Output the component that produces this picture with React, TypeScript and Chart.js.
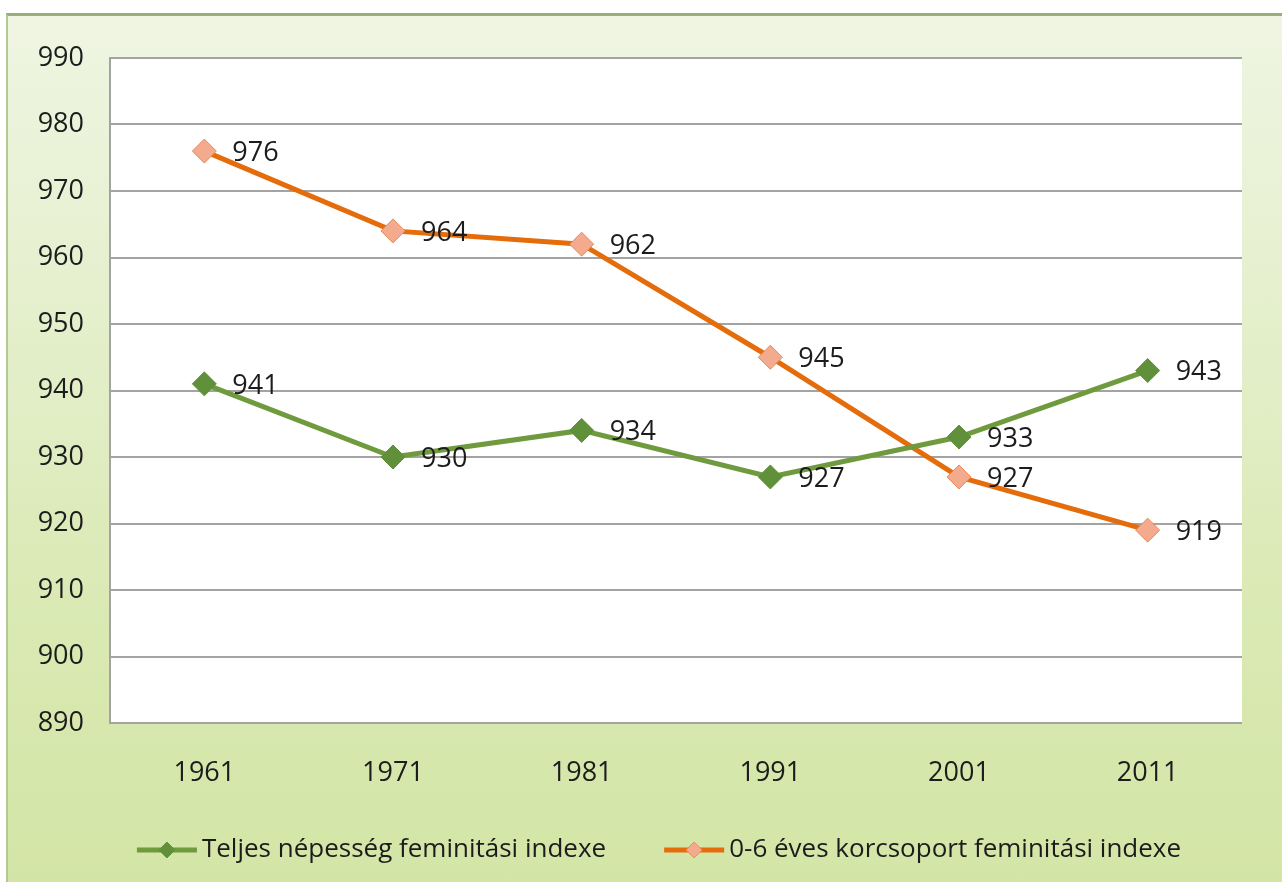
import React, { useEffect, useRef } from "react";
import { Chart, registerables } from "chart.js";

Chart.register(...registerables);

const years = ["1961", "1971", "1981", "1991", "2001", "2011"];
const totalIndex = [941, 930, 934, 927, 933, 943];
const childIndex = [976, 964, 962, 945, 927, 919];
const seriesNames = [
  "Teljes népesség feminitási indexe",
  "0-6 éves korcsoport feminitási indexe",
];
const yMin = 890;
const yMax = 990;
const yStep = 10;

const FONT = "'Open Sans', 'Noto Sans', sans-serif";
const TEXT = "#1c1c1c";
const GREEN_LINE = "#6f9a3e";
const GREEN_PT = "#61903a";
const ORANGE_LINE = "#e46c0a";
const ORANGE_PT = "#f4aa8c";
const ORANGE_PT_BORDER = "#e9895c";
const GRID = "#a3a3a3";

const plotBg = {
  id: "plotBg",
  beforeDraw(chart: any) {
    const { ctx, chartArea } = chart;
    ctx.save();
    ctx.fillStyle = "#ffffff";
    ctx.fillRect(chartArea.left, chartArea.top, chartArea.right - chartArea.left, chartArea.bottom - chartArea.top);
    ctx.restore();
  },
};

const valueLabels = {
  id: "valueLabels",
  afterDatasetsDraw(chart: any) {
    const { ctx } = chart;
    ctx.save();
    ctx.font = `27px ${FONT}`;
    ctx.fillStyle = TEXT;
    ctx.textAlign = "left";
    ctx.textBaseline = "middle";
    chart.data.datasets.forEach((ds: any, i: number) => {
      const meta = chart.getDatasetMeta(i);
      meta.data.forEach((pt: any, j: number) => {
        ctx.fillText(String(ds.data[j]), pt.x + 28, pt.y + 2);
      });
    });
    ctx.restore();
  },
};

const customLegend = {
  id: "customLegend",
  afterDraw(chart: any) {
    const { ctx } = chart;
    ctx.save();
    ctx.font = `26px ${FONT}`;
    ctx.textBaseline = "middle";
    ctx.textAlign = "left";
    const lineLen = 60;
    const gap = 5;
    const itemGap = 58;
    const widths = chart.data.datasets.map((ds: any) => lineLen + gap + ctx.measureText(ds.label).width);
    const total = widths.reduce((a: number, b: number) => a + b, 0) + itemGap * (widths.length - 1);
    let x = 659 - total / 2;
    const y = 850;
    chart.data.datasets.forEach((ds: any, i: number) => {
      ctx.strokeStyle = ds.borderColor;
      ctx.lineWidth = 5;
      ctx.beginPath();
      ctx.moveTo(x, y);
      ctx.lineTo(x + lineLen, y);
      ctx.stroke();
      const cx = x + lineLen / 2;
      const r = 8;
      ctx.beginPath();
      ctx.moveTo(cx, y - r);
      ctx.lineTo(cx + r, y);
      ctx.lineTo(cx, y + r);
      ctx.lineTo(cx - r, y);
      ctx.closePath();
      ctx.fillStyle = ds.pointBackgroundColor;
      ctx.fill();
      ctx.lineWidth = 1;
      ctx.strokeStyle = ds.pointBorderColor;
      ctx.stroke();
      ctx.fillStyle = TEXT;
      ctx.fillText(ds.label, x + lineLen + gap, y);
      x += widths[i] + itemGap;
    });
    ctx.restore();
  },
};

export default function App() {
  const ref = useRef<HTMLCanvasElement | null>(null);

  useEffect(() => {
    if (!ref.current) return;
    const chart = new Chart(ref.current, {
      type: "line",
      data: {
        labels: years,
        datasets: [
          {
            label: seriesNames[0],
            data: totalIndex,
            borderColor: GREEN_LINE,
            backgroundColor: GREEN_LINE,
            borderWidth: 5,
            pointStyle: "rectRot",
            pointRadius: 12,
            pointBackgroundColor: GREEN_PT,
            pointBorderColor: GREEN_PT,
            pointBorderWidth: 1,
            tension: 0,
          },
          {
            label: seriesNames[1],
            data: childIndex,
            borderColor: ORANGE_LINE,
            backgroundColor: ORANGE_LINE,
            borderWidth: 5,
            pointStyle: "rectRot",
            pointRadius: 12,
            pointBackgroundColor: ORANGE_PT,
            pointBorderColor: ORANGE_PT_BORDER,
            pointBorderWidth: 1,
            tension: 0,
          },
        ],
      },
      options: {
        responsive: false,
        animation: false,
        layout: { padding: { left: 0, right: 40, top: 58, bottom: 0 } },
        plugins: {
          legend: { display: false },
          tooltip: { enabled: false },
        },
        scales: {
          x: {
            type: "category",
            offset: true,
            grid: { display: false, drawTicks: false },
            border: { display: false },
            ticks: {
              color: TEXT,
              font: { family: FONT, size: 27 },
              padding: 34,
            },
            afterFit(scale: any) {
              scale.height = 159;
            },
          },
          y: {
            min: yMin,
            max: yMax,
            grid: { color: GRID, lineWidth: 2, drawTicks: false },
            border: { display: true, color: GRID, width: 2 },
            ticks: {
              stepSize: yStep,
              color: TEXT,
              font: { family: FONT, size: 27 },
              padding: 26,
            },
            afterFit(scale: any) {
              scale.width = 110;
            },
          },
        },
      },
      plugins: [plotBg, valueLabels, customLegend],
    } as any);
    return () => chart.destroy();
  }, []);

  return (
    <div style={{ position: "fixed", left: 0, top: 0, width: 1282, height: 882, background: "#ffffff", overflow: "hidden" }}>
      <div
        style={{
          position: "absolute",
          left: 6,
          top: 13,
          width: 1290,
          height: 880,
          boxSizing: "border-box",
          borderTop: "3px solid #98ae78",
          borderLeft: "2px solid #b4c896",
          background: "linear-gradient(180deg, #eff5e2 0%, #e6f0cf 30%, #d9e9b2 70%, #d3e5a6 100%)",
        }}
      />
      <canvas ref={ref} width={1282} height={882} style={{ position: "absolute", left: 0, top: 0, display: "block" }} />
    </div>
  );
}
